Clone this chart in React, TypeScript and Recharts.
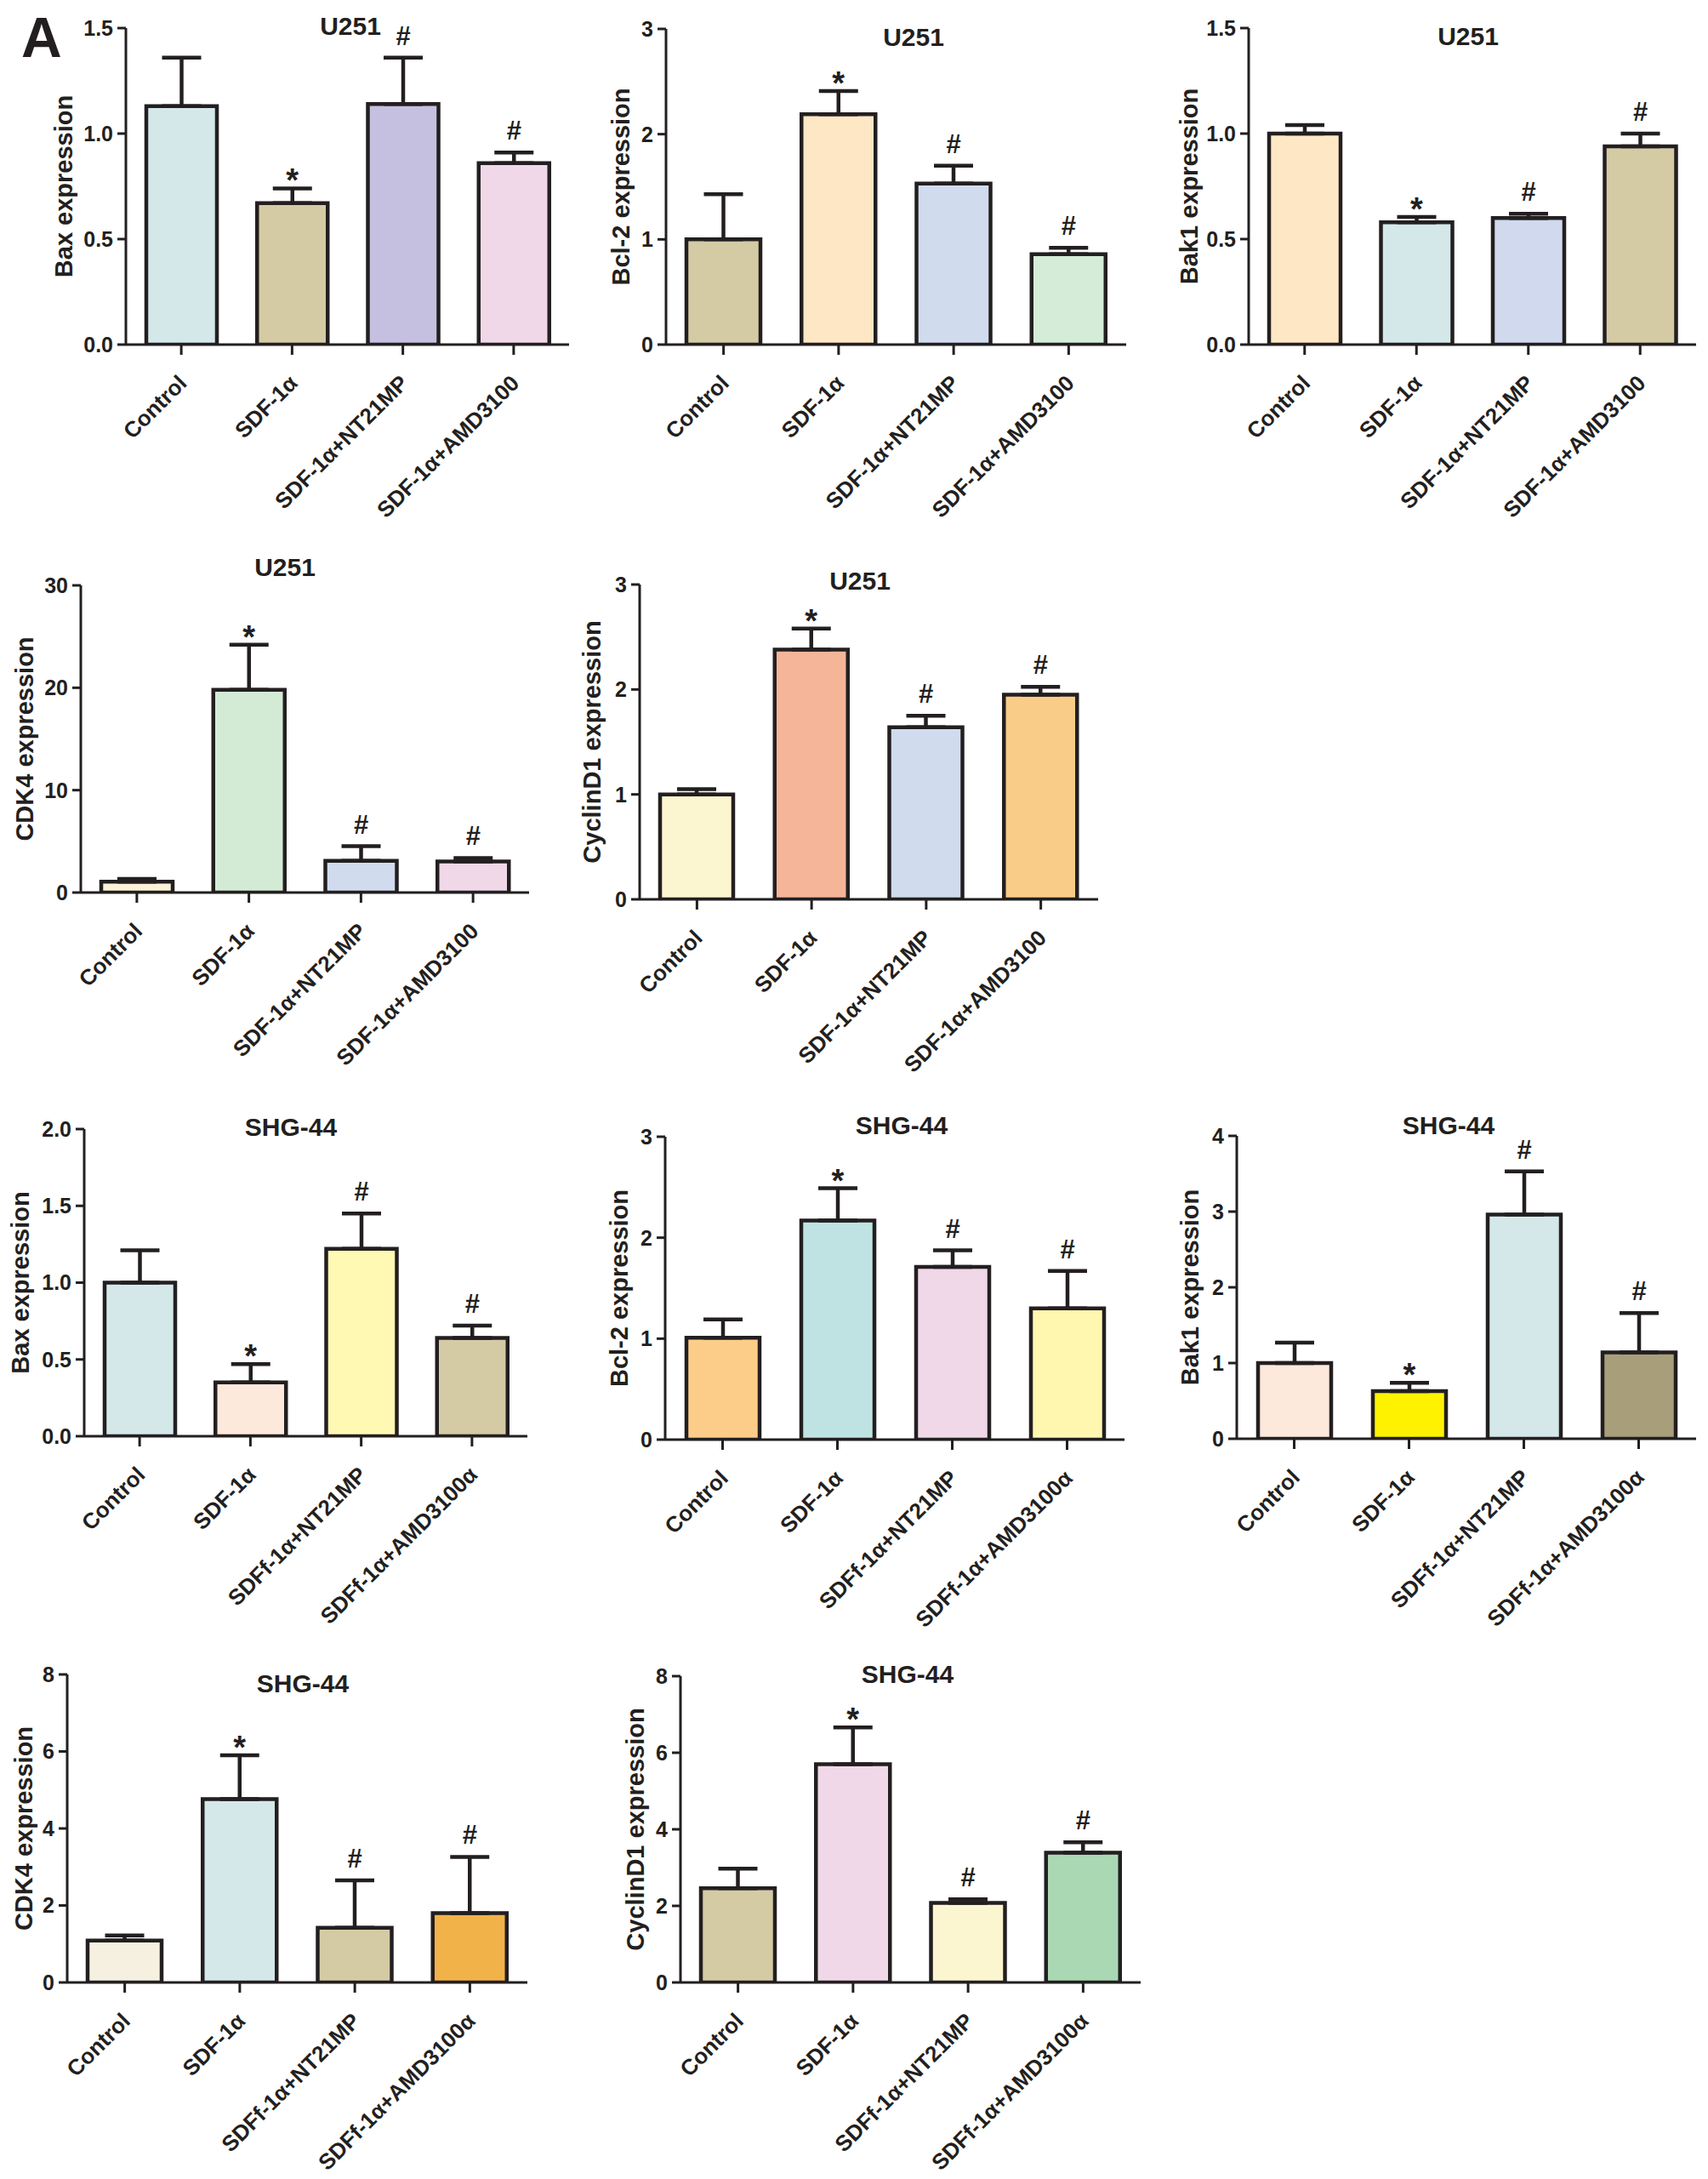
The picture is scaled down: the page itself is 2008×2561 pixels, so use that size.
import React from "react";
import { Bar, BarChart, Cell, ErrorBar, Label, LabelList, XAxis, YAxis } from "recharts";

const FONT = '"Liberation Sans", Arial, Helvetica, sans-serif';
const INK = "#231f20";

// groups
const u251Groups = ["Control", "SDF-1α", "SDF-1α+NT21MP", "SDF-1α+AMD3100"];
const shgGroups = ["Control", "SDF-1α", "SDFf-1α+NT21MP", "SDFf-1α+AMD3100α"];
const marks = ["", "*", "#", "#"];

// U251
const u251BaxMean = [1.13, 0.67, 1.14, 0.86];
const u251BaxSem = [0.23, 0.07, 0.22, 0.05];
const u251Bcl2Mean = [1.0, 2.19, 1.53, 0.86];
const u251Bcl2Sem = [0.43, 0.22, 0.17, 0.06];
const u251Bak1Mean = [1.0, 0.58, 0.6, 0.94];
const u251Bak1Sem = [0.04, 0.025, 0.02, 0.06];
const u251Cdk4Mean = [1.06, 19.8, 3.1, 3.04];
const u251Cdk4Sem = [0.26, 4.4, 1.42, 0.33];
const u251CycMean = [1.0, 2.38, 1.64, 1.95];
const u251CycSem = [0.05, 0.2, 0.11, 0.075];

// SHG-44
const shgBaxMean = [1.0, 0.35, 1.22, 0.64];
const shgBaxSem = [0.21, 0.12, 0.23, 0.08];
const shgBcl2Mean = [1.01, 2.17, 1.71, 1.3];
const shgBcl2Sem = [0.18, 0.32, 0.165, 0.37];
const shgBak1Mean = [1.0, 0.63, 2.96, 1.14];
const shgBak1Sem = [0.27, 0.11, 0.57, 0.52];
const shgCdk4Mean = [1.09, 4.76, 1.42, 1.8];
const shgCdk4Sem = [0.13, 1.14, 1.23, 1.46];
const shgCycMean = [2.46, 5.7, 2.08, 3.39];
const shgCycSem = [0.51, 0.96, 0.09, 0.27];

// bar fills
const colBaxU = ["#d4e8ea", "#d4cba5", "#c6c0e0", "#f0d8e8"];
const colBclU = ["#d4cba5", "#fde7c5", "#d0dcee", "#d4ecd8"];
const colBakU = ["#fde7c5", "#d4e8ea", "#d0d9ee", "#d4cba5"];
const colCdkU = ["#f9f2d6", "#d3ebd4", "#d0dcee", "#f0d8e8"];
const colCycU = ["#fbf6d0", "#f5b598", "#d0dcee", "#f9cc88"];
const colBaxS = ["#d4e8ea", "#fde9dc", "#fff9b4", "#d4cba5"];
const colBclS = ["#fbcd88", "#bfe3e3", "#f0d8e8", "#fff7b0"];
const colBakS = ["#fde9dc", "#fff200", "#d4e8ea", "#a99e7a"];
const colCdkS = ["#f5f0df", "#d4e8ea", "#d4cba5", "#f2b24a"];
const colCycS = ["#d4cba5", "#f0d8e8", "#fbf6d0", "#a9d8b3"];

const panels = [
  { title: "U251", yLabel: "Bax expression", groups: u251Groups, mean: u251BaxMean, sem: u251BaxSem, colors: colBaxU, ticks: [0, 0.5, 1, 1.5], dec: 1, x: 148, top: 33, bottom: 405, right: 669, tx: 412, ty: 41, lx: 85 },
  { title: "U251", yLabel: "Bcl-2 expression", groups: u251Groups, mean: u251Bcl2Mean, sem: u251Bcl2Sem, colors: colBclU, ticks: [0, 1, 2, 3], dec: 0, x: 783, top: 34, bottom: 405, right: 1324, tx: 1074, ty: 54, lx: 740 },
  { title: "U251", yLabel: "Bak1 expression", groups: u251Groups, mean: u251Bak1Mean, sem: u251Bak1Sem, colors: colBakU, ticks: [0, 0.5, 1, 1.5], dec: 1, x: 1468, top: 33, bottom: 405, right: 1994, tx: 1726, ty: 53, lx: 1408 },
  { title: "U251", yLabel: "CDK4 expression", groups: u251Groups, mean: u251Cdk4Mean, sem: u251Cdk4Sem, colors: colCdkU, ticks: [0, 10, 20, 30], dec: 0, x: 95, top: 688, bottom: 1049, right: 622, tx: 335, ty: 677, lx: 39 },
  { title: "U251", yLabel: "CyclinD1 expression", groups: u251Groups, mean: u251CycMean, sem: u251CycSem, colors: colCycU, ticks: [0, 1, 2, 3], dec: 0, x: 752, top: 687, bottom: 1057, right: 1291, tx: 1011, ty: 693, lx: 706 },
  { title: "SHG-44", yLabel: "Bax expression", groups: shgGroups, mean: shgBaxMean, sem: shgBaxSem, colors: colBaxS, ticks: [0, 0.5, 1, 1.5, 2], dec: 1, x: 99, top: 1327, bottom: 1688, right: 620, tx: 342, ty: 1335, lx: 34 },
  { title: "SHG-44", yLabel: "Bcl-2 expression", groups: shgGroups, mean: shgBcl2Mean, sem: shgBcl2Sem, colors: colBclS, ticks: [0, 1, 2, 3], dec: 0, x: 782, top: 1336, bottom: 1692, right: 1322, tx: 1060, ty: 1333, lx: 738 },
  { title: "SHG-44", yLabel: "Bak1 expression", groups: shgGroups, mean: shgBak1Mean, sem: shgBak1Sem, colors: colBakS, ticks: [0, 1, 2, 3, 4], dec: 0, x: 1454, top: 1335, bottom: 1691, right: 1994, tx: 1703, ty: 1333, lx: 1409 },
  { title: "SHG-44", yLabel: "CDK4 expression", groups: shgGroups, mean: shgCdk4Mean, sem: shgCdk4Sem, colors: colCdkS, ticks: [0, 2, 4, 6, 8], dec: 0, x: 79, top: 1968, bottom: 2330, right: 620, tx: 356, ty: 1989, lx: 38 },
  { title: "SHG-44", yLabel: "CyclinD1 expression", groups: shgGroups, mean: shgCycMean, sem: shgCycSem, colors: colCycS, ticks: [0, 2, 4, 6, 8], dec: 0, x: 800, top: 1970, bottom: 2330, right: 1341, tx: 1067, ty: 1978, lx: 757 },
];

const PAD_L = 150;
const PAD_T = 60;
const PAD_B = 250;

function CatTick(props: any) {
  const { x, y, payload } = props;
  const ax = x + 8;
  const ay = y + 33;
  return (
    <text x={ax} y={ay} transform={`rotate(-45, ${ax}, ${ay})`} textAnchor="end" fontSize={26} fontWeight="bold" fill={INK}>
      {payload.value}
    </text>
  );
}

function Panel({ p }: { p: any }) {
  const left = p.x - PAD_L;
  const top = p.top - PAD_T;
  const plotW = p.right - p.x;
  const plotH = p.bottom - p.top;
  const W = plotW + PAD_L + 20;
  const H = plotH + PAD_T + PAD_B;
  const max = p.ticks[p.ticks.length - 1];
  const band = plotW / p.groups.length;
  const barSize = Math.round(band * 0.67) - 4;
  const data = p.groups.map((g: string, i: number) => ({ group: g, mean: p.mean[i], err: [0, p.sem[i]], idx: i }));

  const renderMark = (props: any) => {
    const vb = props.viewBox || props;
    const i = props.value;
    const m = marks[i];
    if (!m) return null;
    const cap = vb.y - p.sem[i] * (vb.height / p.mean[i]);
    const base = m === "*" ? cap + 4 : cap - 15;
    return (
      <text key={`m${i}`} x={vb.x + vb.width / 2} y={base} textAnchor="middle" fontSize={m === "*" ? 38 : 31} fontWeight="bold" fill={INK}>
        {m}
      </text>
    );
  };

  const renderYLabel = () => {
    const lx = p.lx - left;
    const ly = PAD_T + plotH / 2;
    return (
      <text x={lx} y={ly} transform={`rotate(-90, ${lx}, ${ly})`} textAnchor="middle" fontSize={29} fontWeight="bold" fill={INK}>
        {p.yLabel}
      </text>
    );
  };

  return (
    <>
      <div style={{ position: "absolute", left, top, width: W, height: H }}>
        <BarChart width={W} height={H} data={data} margin={{ top: PAD_T, right: 20, left: PAD_L - 60, bottom: PAD_B - 30 }} barCategoryGap={0}>
          <XAxis
            dataKey="group"
            height={30}
            interval={0}
            tickSize={12}
            tickMargin={2}
            tick={(t: any) => <CatTick {...t} />}
            axisLine={{ stroke: INK, strokeWidth: 3 }}
            tickLine={{ stroke: INK, strokeWidth: 3 }}
          />
          <YAxis
            width={60}
            domain={[0, max]}
            ticks={p.ticks}
            allowDataOverflow
            tickFormatter={(v: number) => (p.dec ? v.toFixed(p.dec) : String(v))}
            tickSize={10}
            tickMargin={5}
            tick={{ fill: INK, fontSize: 25, fontWeight: "bold" }}
            axisLine={{ stroke: INK, strokeWidth: 3 }}
            tickLine={{ stroke: INK, strokeWidth: 3 }}
          >
            <Label content={renderYLabel} />
          </YAxis>
          <Bar dataKey="mean" barSize={barSize} stroke={INK} strokeWidth={4.5} isAnimationActive={false}>
            {data.map((d: any, i: number) => (
              <Cell key={d.group} fill={p.colors[i]} />
            ))}
            <ErrorBar dataKey="err" direction="y" width={23} stroke={INK} strokeWidth={4.5} />
            <LabelList dataKey="idx" content={renderMark} />
          </Bar>
        </BarChart>
      </div>
      <div
        style={{
          position: "absolute",
          left: p.tx - 200,
          width: 400,
          top: p.ty - 0.8465 * 30,
          fontSize: 30,
          lineHeight: "30px",
          textAlign: "center",
          fontWeight: "bold",
        }}
      >
        {p.title}
      </div>
    </>
  );
}

export default function App() {
  return (
    <div
      style={{
        position: "absolute",
        left: 0,
        top: 0,
        width: 2008,
        height: 2561,
        background: "#ffffff",
        fontFamily: FONT,
        fontWeight: "bold",
        color: INK,
        overflow: "hidden",
      }}
    >
      {panels.map((p, i) => (
        <Panel key={i} p={p} />
      ))}
      <div style={{ position: "absolute", left: 25, top: 67 - 0.8465 * 66, fontSize: 66, lineHeight: "66px", fontWeight: "bold" }}>A</div>
    </div>
  );
}
